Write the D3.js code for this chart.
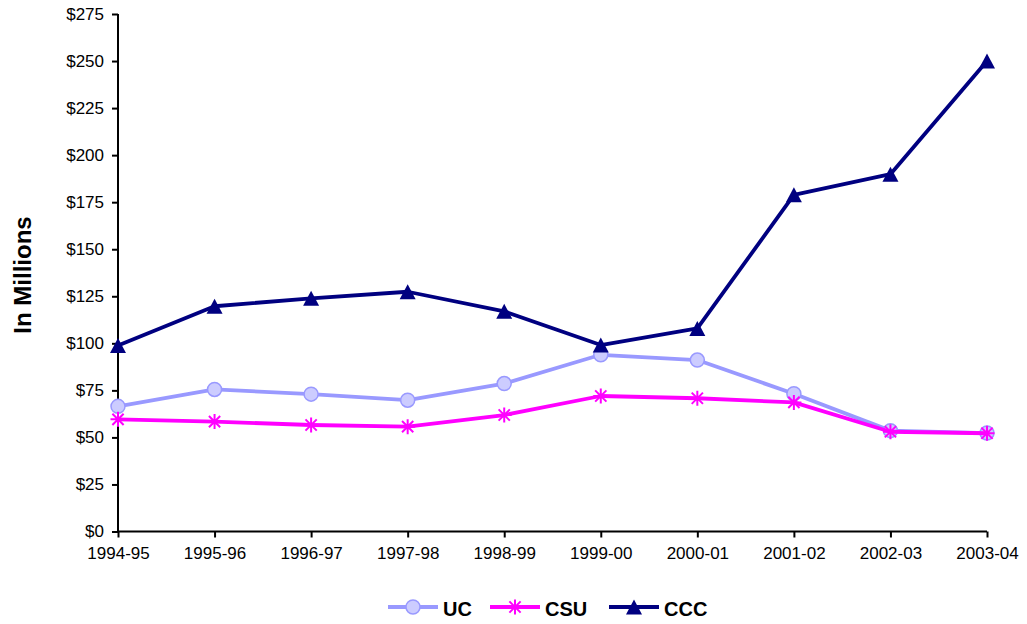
<!DOCTYPE html>
<html><head><meta charset="utf-8">
<script src="https://cdn.jsdelivr.net/npm/d3@7"></script>
<style>body{margin:0;background:#fff;}svg{display:block;font-family:"Liberation Sans",Arial,sans-serif;}</style>
</head><body>
<script>
const categories = ["1994-95","1995-96","1996-97","1997-98","1998-99","1999-00","2000-01","2001-02","2002-03","2003-04"];
const ucValues  = [66.5, 75.5, 73, 69.8, 78.6, 93.9, 91.1, 73.2, 53.6, 52.3];
const csuValues = [59.6, 58.4, 56.6, 55.7, 61.9, 72, 70.8, 68.6, 53, 52.2];
const cccValues = [98.8, 119.7, 123.9, 127.4, 117, 99.1, 107.9, 178.9, 189.9, 250];
const yTicks = [0,25,50,75,100,125,150,175,200,225,250,275];
const seriesNames = ["UC","CSU","CCC"];

const W=1027,H=624;
const svg=d3.select("body").append("svg").attr("width",W).attr("height",H);
const x=d3.scalePoint().domain(categories).range([118,987]);
const y=d3.scaleLinear().domain([0,275]).range([531.5,14]);

const gy=svg.append("g").attr("transform","translate(118,0)")
  .call(d3.axisLeft(y).tickValues(yTicks).tickFormat(d=>"$"+d).tickSize(6).tickPadding(8));
const gx=svg.append("g").attr("transform","translate(0,531.5)")
  .call(d3.axisBottom(x).tickSize(6).tickPadding(9));
[gy,gx].forEach(g=>{
  g.attr("font-size",null).attr("font-family",null);
  g.select(".domain").attr("stroke","#000").attr("stroke-width",2);
  g.selectAll(".tick line").attr("stroke","#000").attr("stroke-width",2);
  g.selectAll("text").style("font-size","17px").attr("fill","#000");
});
gy.select(".domain").attr("d","M0,14V531.5");
gx.select(".domain").attr("d","M118,0H987");

svg.append("text").attr("transform","translate(31,275) rotate(-90)")
  .attr("text-anchor","middle").attr("font-weight","bold").style("font-size","24px").text("In Millions");

const line=d3.line().x((d,i)=>x(categories[i])).y(d=>y(d));
const styles={
  UC:{vals:ucValues,stroke:"#9999FF",marker:"circle"},
  CSU:{vals:csuValues,stroke:"#FF00FF",marker:"star"},
  CCC:{vals:cccValues,stroke:"#000080",marker:"tri"}
};
function drawMarker(g,type,cx,cy,st){
  if(type==="circle"){
    g.append("circle").attr("cx",cx).attr("cy",cy).attr("r",7).attr("fill","#CCCCFF").attr("stroke","#9999FF").attr("stroke-width",1.5);
  } else if(type==="star"){
    const r=7.5;
    const p=`M${cx-r},${cy}H${cx+r}M${cx},${cy-r}V${cy+r}M${cx-r*0.75},${cy-r*0.75}L${cx+r*0.75},${cy+r*0.75}M${cx-r*0.75},${cy+r*0.75}L${cx+r*0.75},${cy-r*0.75}`;
    g.append("path").attr("d",p).attr("stroke",st).attr("stroke-width",2).attr("fill","none");
  } else {
    const h=15,w=16;
    g.append("path").attr("d",`M${cx},${cy-h/2}L${cx+w/2},${cy+h/2}L${cx-w/2},${cy+h/2}Z`).attr("fill","#000080");
  }
}
seriesNames.forEach(n=>{
  const s=styles[n];
  svg.append("path").attr("d",line(s.vals)).attr("fill","none").attr("stroke",s.stroke).attr("stroke-width",3.8).attr("stroke-linejoin","round");
  const g=svg.append("g");
  s.vals.forEach((v,i)=>drawMarker(g,s.marker,x(categories[i]),y(v),s.stroke));
});

// legend
const legX=[388,490,609], legY=607;
seriesNames.forEach((n,i)=>{
  const s=styles[n];
  svg.append("line").attr("x1",legX[i]).attr("x2",legX[i]+50).attr("y1",legY).attr("y2",legY).attr("stroke",s.stroke).attr("stroke-width",3.8);
  drawMarker(svg.append("g"),s.marker,legX[i]+25,legY,s.stroke);
  svg.append("text").attr("x",legX[i]+55).attr("y",legY+9).attr("font-weight","bold").style("font-size","20px").text(n);
});
</script>
</body></html>
